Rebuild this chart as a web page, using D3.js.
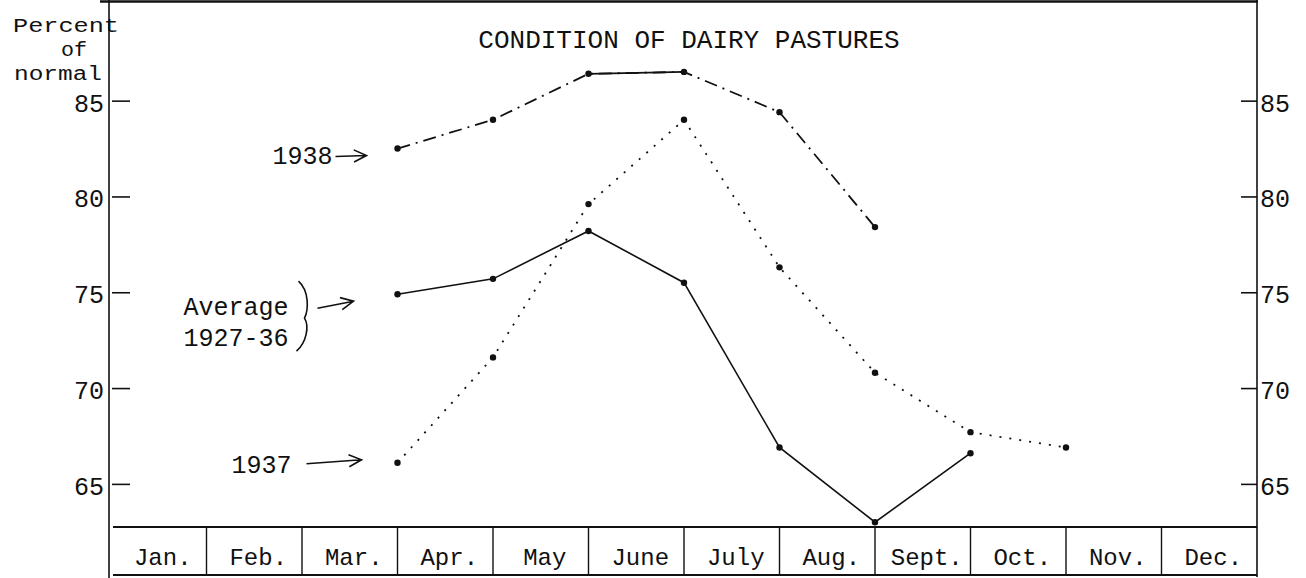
<!DOCTYPE html>
<html>
<head>
<meta charset="utf-8">
<script src="https://cdn.jsdelivr.net/npm/d3@7"></script>
<style>
  body { margin: 0; background: #fff; }
  text { font-family: "Liberation Mono", "Courier New", monospace; fill: #111; }
</style>
</head>
<body>
<div id="chart"></div>
<script>
// data (percent of normal)
var months = ["Jan.", "Feb.", "Mar.", "Apr.", "May", "June", "July", "Aug.", "Sept.", "Oct.", "Nov.", "Dec."]
var yTicks = [65, 70, 75, 80, 85]

var months1938 = ["Apr.", "May", "June", "July", "Aug.", "Sept."]
var values1938 = [82.5, 84.0, 86.4, 86.5, 84.4, 78.4]

var months1937 = ["Apr.", "May", "June", "July", "Aug.", "Sept.", "Oct.", "Nov."]
var values1937 = [66.1, 71.6, 79.6, 84.0, 76.3, 70.8, 67.7, 66.9]

var monthsAvg = ["Apr.", "May", "June", "July", "Aug.", "Sept.", "Oct."]
var valuesAvg = [74.9, 75.7, 78.2, 75.5, 66.9, 63.0, 66.6]

var width = 1306
var height = 578
var left = 109, right = 1257
var plotTop = 1, plotBottom = 527, tableBottom = 575

var svg = d3.select("#chart")
  .append("svg")
    .attr("width", width)
    .attr("height", height)

// each point sits at the start of its month cell
var x = d3.scaleBand()
  .domain(months)
  .range([left + 2, right])
  .paddingInner(0)
  .paddingOuter(0)

var y = d3.scaleLinear()
  .domain([62.75, 90.2])
  .range([plotBottom, plotTop])

var ink = "#111"

// frame
svg.append("line").attr("x1", 100).attr("x2", right + 1).attr("y1", 1.5).attr("y2", 1.5)
  .attr("stroke", ink).attr("stroke-width", 2.5)
svg.append("line").attr("x1", left).attr("x2", left).attr("y1", 0).attr("y2", height)
  .attr("stroke", ink).attr("stroke-width", 1.6)
svg.append("line").attr("x1", right).attr("x2", right).attr("y1", 0).attr("y2", tableBottom + 2)
  .attr("stroke", ink).attr("stroke-width", 1.6)

// month table
svg.append("line").attr("x1", left + 4).attr("x2", right).attr("y1", plotBottom).attr("y2", plotBottom)
  .attr("stroke", ink).attr("stroke-width", 2)
svg.append("line").attr("x1", left + 4).attr("x2", right).attr("y1", tableBottom).attr("y2", tableBottom)
  .attr("stroke", ink).attr("stroke-width", 2)
svg.selectAll(".cell")
  .data(months.slice(1))
  .enter()
  .append("line")
    .attr("x1", function(d) { return x(d) })
    .attr("x2", function(d) { return x(d) })
    .attr("y1", plotBottom)
    .attr("y2", tableBottom)
    .attr("stroke", ink)
    .attr("stroke-width", 1.4)
svg.selectAll(".mlabel")
  .data(months)
  .enter()
  .append("text")
    .attr("x", function(d) { return x(d) + x.bandwidth() / 2 + 4 })
    .attr("y", 565)
    .attr("text-anchor", "middle")
    .style("font-size", "24px")
    .text(function(d) { return d })

// y axes, ticks pointing into the plot
var yLeft = svg.append("g")
  .attr("transform", "translate(" + (left + 3) + ",0)")
  .call(d3.axisLeft(y).tickValues(yTicks).tickSize(-18).tickPadding(8))
var yRight = svg.append("g")
  .attr("transform", "translate(" + right + ",0)")
  .call(d3.axisRight(y).tickValues(yTicks).tickSize(-16).tickPadding(3))
;[yLeft, yRight].forEach(function(g) {
  g.select(".domain").remove()
  g.selectAll("line").attr("stroke", ink).attr("stroke-width", 1.6)
  g.selectAll("text")
    .style("font-family", "'Liberation Mono', 'Courier New', monospace")
    .style("font-size", "25px")
    .attr("fill", ink)
    .attr("dy", "0.42em")
})

// axis title, three tight lines
var unitLines = [["Percent", 66, 32, 106], ["of", 74, 56, 26], ["normal", 58, 80, 88]]
svg.selectAll(".unit")
  .data(unitLines)
  .enter()
  .append("text")
    .attr("x", function(d) { return d[1] })
    .attr("y", function(d) { return d[2] })
    .attr("text-anchor", "middle")
    .attr("textLength", function(d) { return d[3] })
    .attr("lengthAdjust", "spacingAndGlyphs")
    .style("font-size", "20px")
    .text(function(d) { return d[0] })

svg.append("text")
  .attr("x", (left + right) / 2 + 6)
  .attr("y", 48)
  .attr("text-anchor", "middle")
  .style("font-size", "26px")
  .text("CONDITION OF DAIRY PASTURES")

// series
function drawSeries(ms, vs, dash, w) {
  var pts = ms.map(function(m, i) { return [x(m), y(vs[i])] })
  svg.append("path")
    .datum(pts)
    .attr("d", d3.line())
    .attr("fill", "none")
    .attr("stroke", ink)
    .attr("stroke-width", w)
    .attr("stroke-dasharray", dash)
  svg.append("g").selectAll("circle")
    .data(pts)
    .enter()
    .append("circle")
      .attr("cx", function(d) { return d[0] })
      .attr("cy", function(d) { return d[1] })
      .attr("r", 3.2)
      .attr("fill", ink)
  return pts
}

var p38 = drawSeries(months1938, values1938, "13,6,2,6", 1.8)
// the June-July stretch of 1938 is drawn solid
svg.append("path")
  .datum(p38.slice(2, 4))
  .attr("d", d3.line())
  .attr("stroke", ink)
  .attr("stroke-width", 1.8)
p38 = p38[0]
var p37 = drawSeries(months1937, values1937, "2,8", 1.8)[0]
var pAvg = drawSeries(monthsAvg, valuesAvg, null, 1.6)[0]

// hand-drawn style labels with arrows, placed relative to each series' first point
function arrow(p, x0, y0, x1, y1) {
  var ax = p[0] + x1, ay = p[1] + y1
  var ang = Math.atan2(y1 - y0, x1 - x0)
  var head = 14
  svg.append("path")
    .attr("d", "M" + (p[0] + x0) + "," + (p[1] + y0) + "L" + ax + "," + ay
      + "M" + (ax - head * Math.cos(ang - 0.45)) + "," + (ay - head * Math.sin(ang - 0.45))
      + "L" + ax + "," + ay
      + "L" + (ax - head * Math.cos(ang + 0.45)) + "," + (ay - head * Math.sin(ang + 0.45)))
    .attr("fill", "none")
    .attr("stroke", ink)
    .attr("stroke-width", 1.6)
}

svg.append("text").attr("x", p38[0] - 65).attr("y", p38[1] + 15)
  .attr("text-anchor", "end").style("font-size", "25px").text("1938")
arrow(p38, -62, 8, -31, 7)

svg.append("text").attr("x", p37[0] - 106).attr("y", p37[1] + 10)
  .attr("text-anchor", "end").style("font-size", "25px").text("1937")
arrow(p37, -91, 1, -36, -3)

var avg = svg.append("text").style("font-size", "25px")
avg.append("tspan").attr("x", pAvg[0] - 214).attr("y", pAvg[1] + 21).text("Average")
avg.append("tspan").attr("x", pAvg[0] - 214).attr("y", pAvg[1] + 52).text("1927-36")
var bx = pAvg[0] - 97, by = pAvg[1]
svg.append("path")
  .attr("d", "M" + (bx - 2) + "," + (by - 13) + "C" + (bx + 9) + "," + (by - 3) + " " + (bx + 8) + "," + (by + 16) + " " + (bx + 4) + "," + (by + 24)
    + "C" + (bx + 9) + "," + (by + 32) + " " + (bx + 6) + "," + (by + 48) + " " + (bx - 4) + "," + (by + 57))
  .attr("fill", "none")
  .attr("stroke", ink)
  .attr("stroke-width", 1.6)
arrow(pAvg, -80, 14, -44, 7)
</script>
</body>
</html>
